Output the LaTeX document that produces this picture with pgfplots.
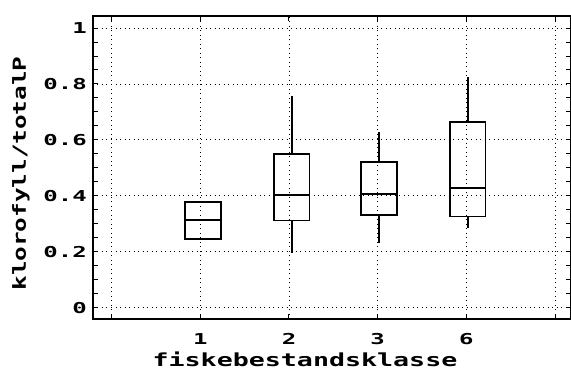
\documentclass[border=0pt]{standalone}
\usepackage{fontspec}
\usepackage{pgfplots}
\pgfplotsset{compat=1.18}
\usepgfplotslibrary{statistics}
\newfontfamily\tickfont{DejaVu Sans Mono}[FakeStretch=1.6]
\newfontfamily\xlabfont{DejaVu Sans Mono}[FakeStretch=1.48]
\newfontfamily\ylabfont{DejaVu Sans Mono}[FakeStretch=1.35]

\begin{document}
\begin{tikzpicture}
\useasboundingbox (0,0) rectangle (571pt,370pt);
\begin{axis}[at={(93pt,51pt)}, anchor=south west, scale only axis,
  width=478pt, height=303pt,
  xmin=-0.21, xmax=5.18, ymin=-0.04, ymax=1.043,
  xtick={0,1,2,3,4,5}, xticklabels={,1,2,3,6,},
  ytick={0,0.2,0.4,0.6,0.8,1}, yticklabels={0,0.2,0.4,0.6,0.8,1},
  minor y tick num=3,
  grid=major,
  major grid style={black, line width=0.9pt, dash pattern=on 0.9pt off 3.6pt},
  tick style={black, line width=1pt},
  major tick length=5pt, minor tick length=5pt,
  axis line style={line width=1.4pt},
  xticklabel style={font=\tickfont\bfseries\fontsize{15}{17}\selectfont, inner sep=0pt, anchor=north, yshift=-14pt},
  yticklabel style={font=\tickfont\bfseries\fontsize{15}{17}\selectfont, inner sep=0pt, anchor=east, xshift=-6pt},
  xlabel={fiskebestandsklasse},
  ylabel={klorofyll/totalP},
  xlabel style={font=\xlabfont\bfseries\fontsize{18}{20}\selectfont, inner sep=0pt, at={(axis description cs:0.4435,-0.158)}, anchor=base},
  ylabel style={font=\ylabfont\bfseries\fontsize{18}{20}\selectfont, inner sep=0pt, at={(axis description cs:-0.151,0.48)}, anchor=center},
  boxplot/draw direction=y,
  boxplot/box extend=0.4, boxplot/whisker extend=0,
]
\addplot[black, line width=1.7pt, boxplot prepared={draw position=1.03,
  lower whisker=0.245, lower quartile=0.245, median=0.314,
  upper quartile=0.379, upper whisker=0.379}] coordinates {};
\addplot[black, line width=1.7pt, boxplot prepared={draw position=2.03,
  lower whisker=0.196, lower quartile=0.312, median=0.404,
  upper quartile=0.550, upper whisker=0.757}] coordinates {};
\addplot[black, line width=1.7pt, boxplot prepared={draw position=3.015,
  lower whisker=0.233, lower quartile=0.331, median=0.407,
  upper quartile=0.521, upper whisker=0.630}] coordinates {};
\addplot[black, line width=1.7pt, boxplot prepared={draw position=4.015,
  lower whisker=0.285, lower quartile=0.326, median=0.429,
  upper quartile=0.665, upper whisker=0.824}] coordinates {};
\end{axis}
\end{tikzpicture}
\end{document}
